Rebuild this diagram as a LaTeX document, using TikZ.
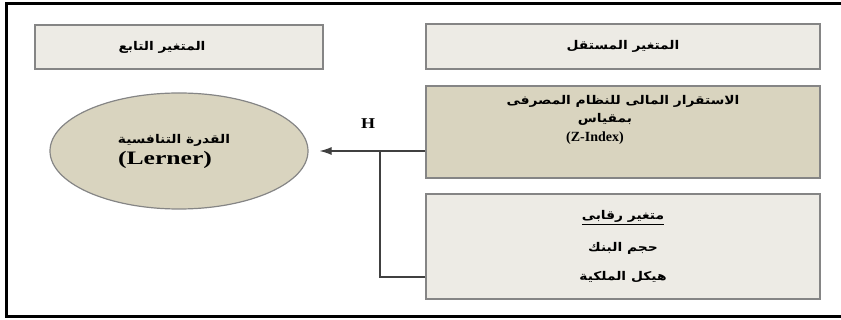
\documentclass[tikz,border=0pt]{standalone}
\usepackage{fontspec}
\setmainfont{Liberation Serif}
\newfontfamily\arabicfont[Script=Arabic]{DejaVu Sans}
\TeXXeTstate=1
\usetikzlibrary{arrows.meta,shapes.geometric}
\definecolor{boxgray}{HTML}{EDEBE5}
\definecolor{boxtan}{HTML}{D9D4BF}
\definecolor{edgegray}{HTML}{858585}
\newcommand{\artxt}[1]{\scalebox{1.15}[1]{\arabicfont\bfseries\beginR #1\endR}}

\begin{document}
\begin{tikzpicture}[x=1pt, y=-1pt, %pixel units, y runs down
  varbox/.style={draw=edgegray, line width=1.2pt, fill=boxgray, inner sep=0pt, align=center, font=\fontsize{12}{18}\selectfont},
  conn/.style={line width=1.2pt, draw=black!75}]
\useasboundingbox (0,0) rectangle (841,320);
\draw[line width=3pt] (841,4) -- (6,4) -- (6,317) -- (841,317); %frame, open on the right

%headers
\node[varbox, minimum width=288pt, minimum height=44pt] (dep) at (179,47) {\mbox{\artxt{المتغير التابع}\hspace{34pt}}};
\node[varbox, minimum width=394pt, minimum height=45pt] (ind) at (623,46.5) {\artxt{المتغير المستقل}};

%variables
\node[varbox, fill=boxtan, minimum width=394pt, minimum height=92pt] (zidx) at (623,132)
  {\artxt{الاستقرار المالى للنظام المصرفى}\\ \mbox{\artxt{بمقياس}\hspace{36pt}}\\[1pt]
   \mbox{\bfseries\fontsize{14}{16}\selectfont(Z-Index)\hspace{56pt}}\\[10pt] \mbox{}};
\node[varbox, minimum width=394pt, minimum height=105pt] (ctrl) at (623,246.5)
  {\underline{\artxt{متغير رقابى}}\\[14pt] \artxt{حجم البنك}\\[11pt] \artxt{هيكل الملكية}};
\node[varbox, ellipse, fill=boxtan, minimum width=258pt, minimum height=116pt] (lerner) at (179,151)
  {\mbox{\artxt{القدرة التنافسية}\hspace{10pt}}\\[3pt]
   \mbox{\scalebox{1.35}[1]{\fontsize{19}{22}\selectfont\bfseries(Lerner)}\hspace{28pt}}};

%hypothesis arrow
\coordinate (jn) at (380,151);
\draw[conn, -{Latex[length=12pt, width=8pt]}, shorten >=11pt] ([yshift=-19pt]zidx.west) -- (lerner.east);
\draw[conn] ([yshift=-30.5pt]ctrl.west) -| (jn);
\node[font=\fontsize{15}{18}\selectfont\bfseries] (hyp) at (368,124) {\scalebox{1.2}[1]{H}};
\end{tikzpicture}
\end{document}
